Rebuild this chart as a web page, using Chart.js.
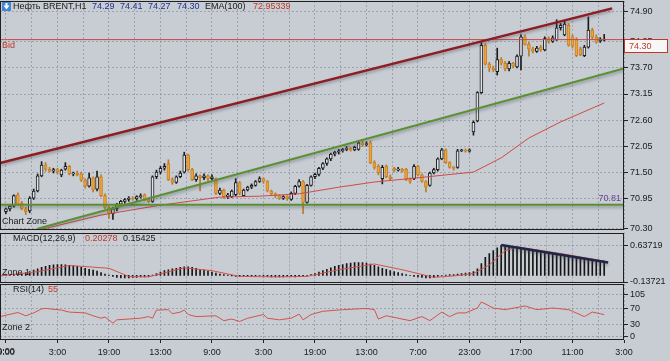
<!DOCTYPE html>
<html>
<head>
<meta charset="utf-8">
<script src="https://cdn.jsdelivr.net/npm/chart.js@4"></script>
<style>
html, body { margin: 0; padding: 0; width: 670px; height: 361px; overflow: hidden; background: #c8cdd4; }
canvas { position: absolute; left: 0; }
</style>
</head>
<body>
<canvas id="priceChart" style="top:0px" width="670" height="240"></canvas>
<canvas id="macdChart" style="top:226px" width="670" height="66"></canvas>
<canvas id="rsiChart" style="top:278px" width="670" height="83"></canvas>
<script>
// time axis: one label every 13 hourly bars
var timeLabels = ["9:00", "3:00", "19:00", "13:00", "9:00", "3:00", "19:00", "13:00", "7:00", "23:00", "17:00", "11:00", "3:00"];
var barsPerLabel = 13;

// candles (bar index = position in array)
var opens = [
  70.66, 70.72, 70.78, 71.02, 70.84, 70.72, 70.68, 70.95, 71.10, 71.42,
  71.65, 71.56, 71.52, 71.55, 71.44, 71.56, 71.62, 71.46, 71.48, 71.46,
  71.33, 71.20, 71.38, 71.14, 71.40, 71.00, 70.75, 70.62, 70.72, 70.82,
  70.88, 70.92, 70.95, 70.93, 70.98, 71.02, 70.92, 70.88, 71.40, 71.50,
  71.58, 71.68, 71.34, 71.28, 71.40, 71.50, 71.86, 71.55, 71.34, 71.42,
  71.38, 71.42, 71.36, 71.36, 71.05, 71.12, 70.98, 70.98, 71.02, 71.28,
  71.00, 71.12, 71.18, 71.22, 71.30, 71.36, 71.30, 71.10, 71.04, 71.00,
  70.95, 70.98, 70.92, 71.05, 71.20, 71.30, 70.86, 71.22, 71.40, 71.45,
  71.58, 71.68, 71.78, 71.88, 71.92, 71.95, 71.98, 72.00, 71.97, 71.98,
  72.12, 72.08, 72.12, 71.70, 71.62, 71.36, 71.62, 71.40, 71.58, 71.54,
  71.56, 71.56, 71.34, 71.36, 71.62, 71.44, 71.30, 71.22, 71.48, 71.55,
  71.78, 71.97, 71.70, 71.60, 71.60, 71.95, 71.96, 71.94, 72.35, 72.58,
  73.18, 74.18, 73.78, 73.70, 73.62, 73.88, 73.80, 73.68, 73.80, 73.72,
  73.95, 74.36, 74.20, 74.10, 74.05, 74.14, 74.08, 74.32, 74.26, 74.30,
  74.55, 74.40, 74.60, 74.36, 74.30, 74.10, 73.96, 74.14, 74.50, 74.35,
  74.28, 74.29
];
var highs = [
  70.74, 70.80, 71.02, 71.06, 70.88, 70.76, 70.98, 71.14, 71.46, 71.72,
  71.70, 71.60, 71.58, 71.58, 71.56, 71.70, 71.64, 71.50, 71.52, 71.50,
  71.36, 71.48, 71.40, 71.52, 71.44, 71.04, 70.78, 70.76, 70.84, 70.90,
  70.94, 70.98, 70.98, 71.00, 71.04, 71.04, 70.95, 71.42, 71.54, 71.62,
  71.68, 71.76, 71.38, 71.42, 71.52, 71.92, 71.88, 71.58, 71.46, 71.44,
  71.46, 71.44, 71.44, 71.38, 71.16, 71.14, 71.05, 71.12, 71.36, 71.30,
  71.14, 71.20, 71.25, 71.32, 71.40, 71.38, 71.32, 71.12, 71.06, 71.02,
  71.00, 71.00, 71.08, 71.22, 71.34, 71.32, 71.24, 71.42, 71.48, 71.60,
  71.70, 71.80, 71.90, 71.94, 71.98, 72.00, 72.04, 72.03, 72.05, 72.15,
  72.16, 72.14, 72.16, 71.74, 71.66, 71.64, 71.65, 71.44, 71.60, 71.60,
  71.58, 71.58, 71.38, 71.66, 71.64, 71.46, 71.32, 71.50, 71.58, 71.80,
  72.00, 71.99, 71.72, 71.62, 71.98, 71.98, 71.99, 71.99, 72.58, 73.20,
  74.24, 74.22, 73.82, 73.74, 74.12, 73.92, 73.84, 73.84, 73.82, 73.98,
  74.40, 74.40, 74.24, 74.14, 74.16, 74.18, 74.36, 74.36, 74.38, 74.72,
  74.64, 74.70, 74.64, 74.40, 74.34, 74.14, 74.18, 74.78, 74.54, 74.40,
  74.34, 74.41
];
var lows = [
  70.62, 70.68, 70.76, 70.80, 70.70, 70.60, 70.64, 70.92, 71.08, 71.40,
  71.52, 71.50, 71.48, 71.46, 71.40, 71.54, 71.44, 71.42, 71.42, 71.30,
  71.16, 71.18, 71.08, 71.10, 70.98, 70.72, 70.52, 70.50, 70.68, 70.78,
  70.84, 70.88, 70.90, 70.90, 70.95, 70.90, 70.85, 70.86, 71.36, 71.46,
  71.54, 71.32, 71.24, 71.26, 71.38, 71.48, 71.52, 71.32, 71.30, 71.10,
  71.34, 71.32, 71.34, 71.02, 71.02, 70.94, 70.94, 70.96, 71.00, 71.02,
  70.98, 71.10, 71.15, 71.20, 71.28, 71.26, 71.08, 71.00, 70.96, 70.92,
  70.92, 70.90, 70.90, 71.02, 71.18, 70.62, 70.84, 71.20, 71.36, 71.42,
  71.55, 71.64, 71.74, 71.84, 71.88, 71.92, 71.95, 71.94, 71.95, 71.96,
  72.04, 72.05, 71.68, 71.56, 71.44, 71.25, 71.38, 71.32, 71.50, 71.52,
  71.50, 71.32, 71.26, 71.34, 71.42, 71.28, 71.08, 71.20, 71.46, 71.52,
  71.76, 71.68, 71.58, 71.54, 71.58, 71.93, 71.92, 71.92, 72.28, 72.56,
  73.16, 73.76, 73.62, 73.62, 73.55, 73.76, 73.64, 73.64, 73.70, 73.70,
  73.66, 74.18, 73.95, 74.02, 74.03, 74.05, 74.06, 74.22, 74.24, 74.28,
  74.50, 74.38, 74.16, 74.12, 73.94, 73.96, 73.94, 74.12, 74.30, 74.22,
  74.24, 74.27
];
var closes = [
  70.72, 70.78, 71.00, 70.82, 70.72, 70.66, 70.95, 71.10, 71.42, 71.65,
  71.56, 71.52, 71.55, 71.50, 71.54, 71.62, 71.46, 71.48, 71.44, 71.33,
  71.20, 71.38, 71.12, 71.40, 71.00, 70.75, 70.62, 70.72, 70.82, 70.88,
  70.92, 70.95, 70.93, 70.98, 71.00, 70.92, 70.88, 71.40, 71.50, 71.58,
  71.62, 71.34, 71.28, 71.40, 71.48, 71.86, 71.55, 71.34, 71.42, 71.38,
  71.42, 71.36, 71.40, 71.05, 71.12, 70.98, 71.02, 71.10, 71.28, 71.05,
  71.12, 71.18, 71.22, 71.30, 71.36, 71.30, 71.10, 71.04, 71.00, 70.95,
  70.98, 70.94, 71.05, 71.20, 71.30, 70.86, 71.22, 71.40, 71.45, 71.58,
  71.68, 71.78, 71.88, 71.92, 71.95, 71.98, 72.00, 71.97, 72.02, 72.12,
  72.08, 72.10, 71.70, 71.60, 71.48, 71.60, 71.40, 71.36, 71.54, 71.56,
  71.52, 71.34, 71.30, 71.62, 71.44, 71.30, 71.18, 71.48, 71.55, 71.78,
  71.97, 71.70, 71.60, 71.58, 71.95, 71.96, 71.94, 71.97, 72.55, 73.18,
  74.18, 73.78, 73.70, 73.66, 73.88, 73.80, 73.68, 73.80, 73.74, 73.95,
  74.36, 74.20, 74.10, 74.05, 74.12, 74.08, 74.32, 74.26, 74.34, 74.55,
  74.60, 74.63, 74.18, 74.16, 73.96, 73.98, 74.14, 74.50, 74.35, 74.25,
  74.31, 74.30
];

// EMA(100) vertices
var emaIdx = [8, 24, 39, 54, 64, 74, 84, 93, 103, 118, 125, 132, 140, 151];
var emaVals = [70.27, 70.59, 70.80, 70.97, 70.99, 71.04, 71.18, 71.29, 71.37, 71.50, 71.80, 72.22, 72.56, 72.96];
var emaLast = 72.95339;

// drawn lines
var resistIdx = [-1.5, 153];
var resistVals = [71.69, 74.96];
var supportIdx = [8, 156];
var supportVals = [70.30, 73.69];
var levelPrice = 70.81;
var bidPrice = 74.30;
var priceTicks = [70.30, 70.95, 71.50, 72.05, 72.60, 73.15, 73.70, 74.25, 74.90];

// MACD(12,26,9)
var macdHist = [
  0.00, 0.01, 0.02, 0.03, 0.04, 0.06, 0.08, 0.11, 0.14, 0.17,
  0.19, 0.21, 0.22, 0.23, 0.23, 0.22, 0.21, 0.20, 0.19, 0.17,
  0.15, 0.13, 0.11, 0.09, 0.06, 0.03, 0.01, -0.02, -0.04, -0.05,
  -0.05, -0.05, -0.04, -0.04, -0.03, -0.03, -0.02, 0.01, 0.04, 0.07,
  0.10, 0.12, 0.14, 0.15, 0.17, 0.18, 0.18, 0.17, 0.15, 0.13,
  0.11, 0.09, 0.07, 0.05, 0.03, 0.02, 0.01, -0.01, -0.02, -0.02,
  -0.01, -0.02, -0.01, -0.01, 0.00, -0.01, -0.02, -0.03, -0.03, -0.03,
  -0.03, -0.02, -0.02, -0.03, -0.02, -0.01, 0.00, 0.02, 0.04, 0.07,
  0.10, 0.13, 0.16, 0.19, 0.21, 0.23, 0.25, 0.26, 0.27, 0.27,
  0.27, 0.26, 0.24, 0.21, 0.18, 0.15, 0.13, 0.10, 0.08, 0.06,
  0.04, 0.02, 0.00, -0.02, -0.03, -0.04, -0.05, -0.05, -0.04, -0.02,
  0.00, 0.01, 0.02, 0.02, 0.03, 0.04, 0.05, 0.06, 0.08, 0.14,
  0.25, 0.38, 0.46, 0.52, 0.58, 0.63, 0.62, 0.61, 0.60, 0.58,
  0.58, 0.57, 0.55, 0.54, 0.53, 0.51, 0.50, 0.49, 0.48, 0.46,
  0.45, 0.44, 0.42, 0.40, 0.38, 0.37, 0.36, 0.34, 0.32, 0.31,
  0.30, 0.30
];
var signalIdx = [-1.5, 8, 16, 26, 31, 36, 45, 52, 59, 68, 76, 84, 93, 100, 108, 113, 118, 122, 126, 129, 140, 151];
var signalVals = [-0.01, 0.08, 0.21, 0.15, -0.02, -0.03, 0.16, 0.10, -0.02, -0.03, -0.02, 0.12, 0.24, 0.12, -0.04, -0.01, 0.04, 0.22, 0.52, 0.60, 0.46, 0.30];
var macdTrendIdx = [125, 152];
var macdTrendVals = [0.637, 0.27];
var macdTicks = [-0.13721, 0.63719];
var macdMain = "0.20278";
var macdSignal = "0.15425";

// RSI(14)
var rsiIdx = [-1.5, 3, 5, 7, 9, 10, 14, 16, 20, 22, 24, 25, 27, 28, 31, 34, 36, 37, 38, 41, 42, 44, 45, 46, 48, 53, 55, 57, 59, 61, 65, 66, 69, 72, 74, 75, 77, 80, 85, 91, 93, 94, 96, 99, 102, 105, 107, 110, 112, 114, 116, 119, 120, 123, 126, 131, 134, 138, 142, 143, 146, 148, 150, 151];
var rsiVals = [50, 60, 52, 59, 69, 70, 66, 61, 59, 52, 46, 49, 34, 42, 44, 46, 50, 46, 66, 67, 57, 61, 66, 55, 50, 52, 40, 44, 38, 46, 55, 46, 42, 46, 56, 42, 55, 63, 67, 70, 67, 44, 52, 46, 40, 50, 40, 61, 50, 59, 59, 71, 86, 71, 67, 76, 67, 71, 67, 63, 50, 61, 57, 55];
var rsiTicks = [0, 30, 70, 105];
var rsiLast = "55";

var GRID = "rgba(115,122,135,0.5)";
var FONT_FAMILY = '"Liberation Sans", Arial, sans-serif';
Chart.defaults.font.family = FONT_FAMILY;
Chart.defaults.font.size = 9;
Chart.defaults.color = "#1a1a1a";

function pts(idx, vals) {
  return idx.map(function (x, k) { return { x: x, y: vals[k] }; });
}

function makeX(showLabels) {
  return {
    type: "linear",
    min: -1.5,
    max: 156,
    offset: false,
    afterBuildTicks: function (s) {
      var t = [];
      for (var k = 0; k <= (timeLabels.length - 1) * 2; k++) t.push({ value: k * barsPerLabel / 2 });
      s.ticks = t;
    },
    afterFit: function (s) {
      s.paddingLeft = 0;
      s.paddingRight = 0;
      s.height = showLabels ? 21 : 0;
    },
    grid: {
      color: GRID, offset: false, drawTicks: showLabels, tickLength: 3, borderDash: [2, 2],
      tickColor: function (c) { return c.tick && c.tick.value % barsPerLabel === 0 ? "#222" : "rgba(0,0,0,0)"; }
    },
    border: { display: false, dash: [2, 2] },
    ticks: {
      display: showLabels, autoSkip: false, maxRotation: 0, padding: 4,
      callback: function (v) { return v % barsPerLabel === 0 ? timeLabels[v / barsPerLabel] : ""; }
    }
  };
}

function makeY(min, max, tickVals, digits) {
  return {
    position: "right",
    min: min,
    max: max,
    afterBuildTicks: function (s) {
      s.ticks = tickVals.map(function (v) { return { value: v }; });
    },
    afterFit: function (s) {
      s.width = 46;
      s.paddingTop = 0;
      s.paddingBottom = 0;
    },
    grid: { color: GRID, tickLength: 4, tickColor: "#222", borderDash: [2, 2] },
    border: { display: false, dash: [2, 2] },
    ticks: {
      padding: 2, autoSkip: false,
      callback: function (v) { return v.toFixed(digits); }
    }
  };
}

function frame(c, a) {
  c.save();
  c.strokeStyle = "#202020";
  c.lineWidth = 1;
  c.strokeRect(Math.round(a.left) + 0.5, Math.round(a.top) + 0.5, Math.round(a.right - a.left) - 1, Math.round(a.bottom - a.top) - 1);
  c.restore();
}

function label(c, text, x, y, color, align) {
  c.save();
  c.font = "9px " + FONT_FAMILY;
  c.fillStyle = color;
  c.textAlign = align || "left";
  c.textBaseline = "middle";
  c.fillText(text, x, y);
  c.restore();
}

// soft shadow under the hand-drawn trend lines
var shadowPlugin = {
  id: "lineShadow",
  beforeDatasetDraw: function (chart, args) {
    if (!chart.data.datasets[args.index].shadow) return;
    var c = chart.ctx;
    c.save();
    c.shadowColor = "rgba(70,70,80,0.45)";
    c.shadowBlur = 3;
    c.shadowOffsetY = 2;
  },
  afterDatasetDraw: function (chart, args) {
    if (chart.data.datasets[args.index].shadow) chart.ctx.restore();
  }
};

var baseOptions = function (pad, xLabels, yScale) {
  return {
    responsive: false,
    animation: false,
    devicePixelRatio: 1,
    events: [],
    layout: { padding: pad },
    plugins: { legend: { display: false }, tooltip: { enabled: false } },
    scales: { x: makeX(xLabels), y: yScale }
  };
};

// ---- price panel ----
var last = closes.length - 1;
var wickData = closes.map(function (c, i) { return { x: i, y: [lows[i], highs[i]] }; });
var bodyData = closes.map(function (c, i) { return { x: i, y: [opens[i], c] }; });
var bodyFill = closes.map(function (c, i) { return c >= opens[i] ? "#dfe2e6" : "#eba43e"; });
var bodyEdge = closes.map(function (c, i) { return c >= opens[i] ? "#1c1c1c" : "#c98222"; });
var wickColor = closes.map(function (c, i) { return c >= opens[i] ? "#1c1c1c" : "#b97b2a"; });

var priceDecor = {
  id: "priceDecor",
  afterDraw: function (chart) {
    var c = chart.ctx, a = chart.chartArea, ys = chart.scales.y;
    frame(c, a);
    // header
    c.save();
    c.fillStyle = "#3f86d6";
    c.fillRect(2, 2, 9, 9);
    c.fillStyle = "#ffffff";
    c.beginPath();
    c.moveTo(3.5, 5.5); c.lineTo(9.5, 5.5); c.lineTo(6.5, 9.5); c.closePath();
    c.fill();
    c.fillRect(5.5, 3, 2, 3);
    c.restore();
    var hy = a.top + 6;
    label(c, "Нефть BRENT,H1", 13, hy, "#1a1a1a");
    label(c, opens[last].toFixed(2), 92, hy, "#22308f");
    label(c, highs[last].toFixed(2), 120, hy, "#22308f");
    label(c, lows[last].toFixed(2), 148, hy, "#22308f");
    label(c, closes[last].toFixed(2), 177, hy, "#22308f");
    label(c, "EMA(100)", 205, hy, "#1a1a1a");
    label(c, emaLast.toFixed(5), 253, hy, "#c0392b");
    // bid label + price tag
    var by = Math.round(ys.getPixelForValue(bidPrice));
    label(c, "Bid", 2, by + 6, "#c0392b");
    c.save();
    c.fillStyle = "#f7f7f7";
    c.strokeStyle = "#c0392b";
    c.lineWidth = 1;
    c.fillRect(a.right + 0.5, by - 0.5, 43, 13);
    c.strokeRect(a.right + 0.5, by - 0.5, 43, 13);
    c.restore();
    label(c, bidPrice.toFixed(2), a.right + 5, by + 6.5, "#c0392b");
    // horizontal level
    var ly = ys.getPixelForValue(levelPrice);
    label(c, levelPrice.toFixed(2), a.right - 3, ly - 6, "#6a3d9a", "right");
    label(c, "Chart Zone", 2, a.bottom - 8, "#1a1a1a");
  }
};

new Chart(document.getElementById("priceChart"), {
  type: "bar",
  data: {
    datasets: [
      { type: "line", data: pts(resistIdx, resistVals), borderColor: "#8c1d23", borderWidth: 2.5, pointRadius: 0, order: 0, shadow: true },
      { type: "line", data: pts(supportIdx, supportVals), borderColor: "#5b9032", borderWidth: 2, pointRadius: 0, order: 0, shadow: true },
      { type: "line", data: pts([-1.5, 156], [levelPrice, levelPrice]), borderColor: "#5b9032", borderWidth: 2, pointRadius: 0, order: 0, shadow: true },
      { type: "line", data: pts([-1.5, 156], [bidPrice, bidPrice]), borderColor: "#c44a46", borderWidth: 1, pointRadius: 0, order: 0 },
      { type: "line", data: pts(emaIdx, emaVals), borderColor: "#cf4a44", borderWidth: 1, pointRadius: 0, order: 1 },
      { data: bodyData, backgroundColor: bodyFill, borderColor: bodyEdge, borderWidth: 1, borderSkipped: false, barThickness: 3, minBarLength: 1, grouped: false, order: 2 },
      { data: wickData, backgroundColor: wickColor, barThickness: 1, grouped: false, order: 3 }
    ]
  },
  options: baseOptions({ top: 1, bottom: 10, left: 0, right: 0 }, false, makeY(70.275, 75.116, priceTicks, 2)),
  plugins: [shadowPlugin, priceDecor]
});

// ---- MACD panel ----
var macdDecor = {
  id: "macdDecor",
  afterDraw: function (chart) {
    var c = chart.ctx, a = chart.chartArea;
    frame(c, a);
    label(c, "MACD(12,26,9)", 13, a.top + 6, "#1a1a1a");
    label(c, macdMain, 85, a.top + 6, "#c0392b");
    label(c, macdSignal, 123, a.top + 6, "#1a1a1a");
    label(c, "Zone 1", 2, a.bottom - 9, "#1a1a1a");
  }
};

new Chart(document.getElementById("macdChart"), {
  type: "bar",
  data: {
    datasets: [
      { type: "line", data: pts(macdTrendIdx, macdTrendVals), borderColor: "#1f2746", borderWidth: 2.5, pointRadius: 0, order: 0, shadow: true },
      { type: "line", data: pts(signalIdx, signalVals), borderColor: "#d4524c", borderWidth: 1, pointRadius: 0, order: 1 },
      { data: macdHist.map(function (v, i) { return { x: i, y: v }; }), backgroundColor: "#151515", barThickness: 1, grouped: false, order: 2 }
    ]
  },
  options: baseOptions({ top: 6.5, bottom: 10, left: 0, right: 0 }, false, makeY(-0.13721, 0.90, macdTicks, 5)),
  plugins: [shadowPlugin, macdDecor]
});

// ---- RSI panel ----
var rsiDecor = {
  id: "rsiDecor",
  afterDraw: function (chart) {
    var c = chart.ctx, a = chart.chartArea, xs = chart.scales.x;
    frame(c, a);
    label(c, "RSI(14)", 13, a.top + 6, "#1a1a1a");
    label(c, rsiLast, 48, a.top + 6, "#c0392b");
    label(c, "Zone 2", 2, a.bottom - 12, "#1a1a1a");
    // first time label sits half outside the canvas, draw it here
    label(c, timeLabels[0], xs.getPixelForValue(0), a.bottom + 12, "#1a1a1a", "center");
  }
};

new Chart(document.getElementById("rsiChart"), {
  type: "line",
  data: {
    datasets: [
      { data: pts(rsiIdx, rsiVals), borderColor: "#d4524c", borderWidth: 1, pointRadius: 0 }
    ]
  },
  options: baseOptions({ top: 6, bottom: 0, left: 0, right: 0 }, true, makeY(-7.5, 130, rsiTicks, 0)),
  plugins: [rsiDecor]
});
</script>
</body>
</html>
